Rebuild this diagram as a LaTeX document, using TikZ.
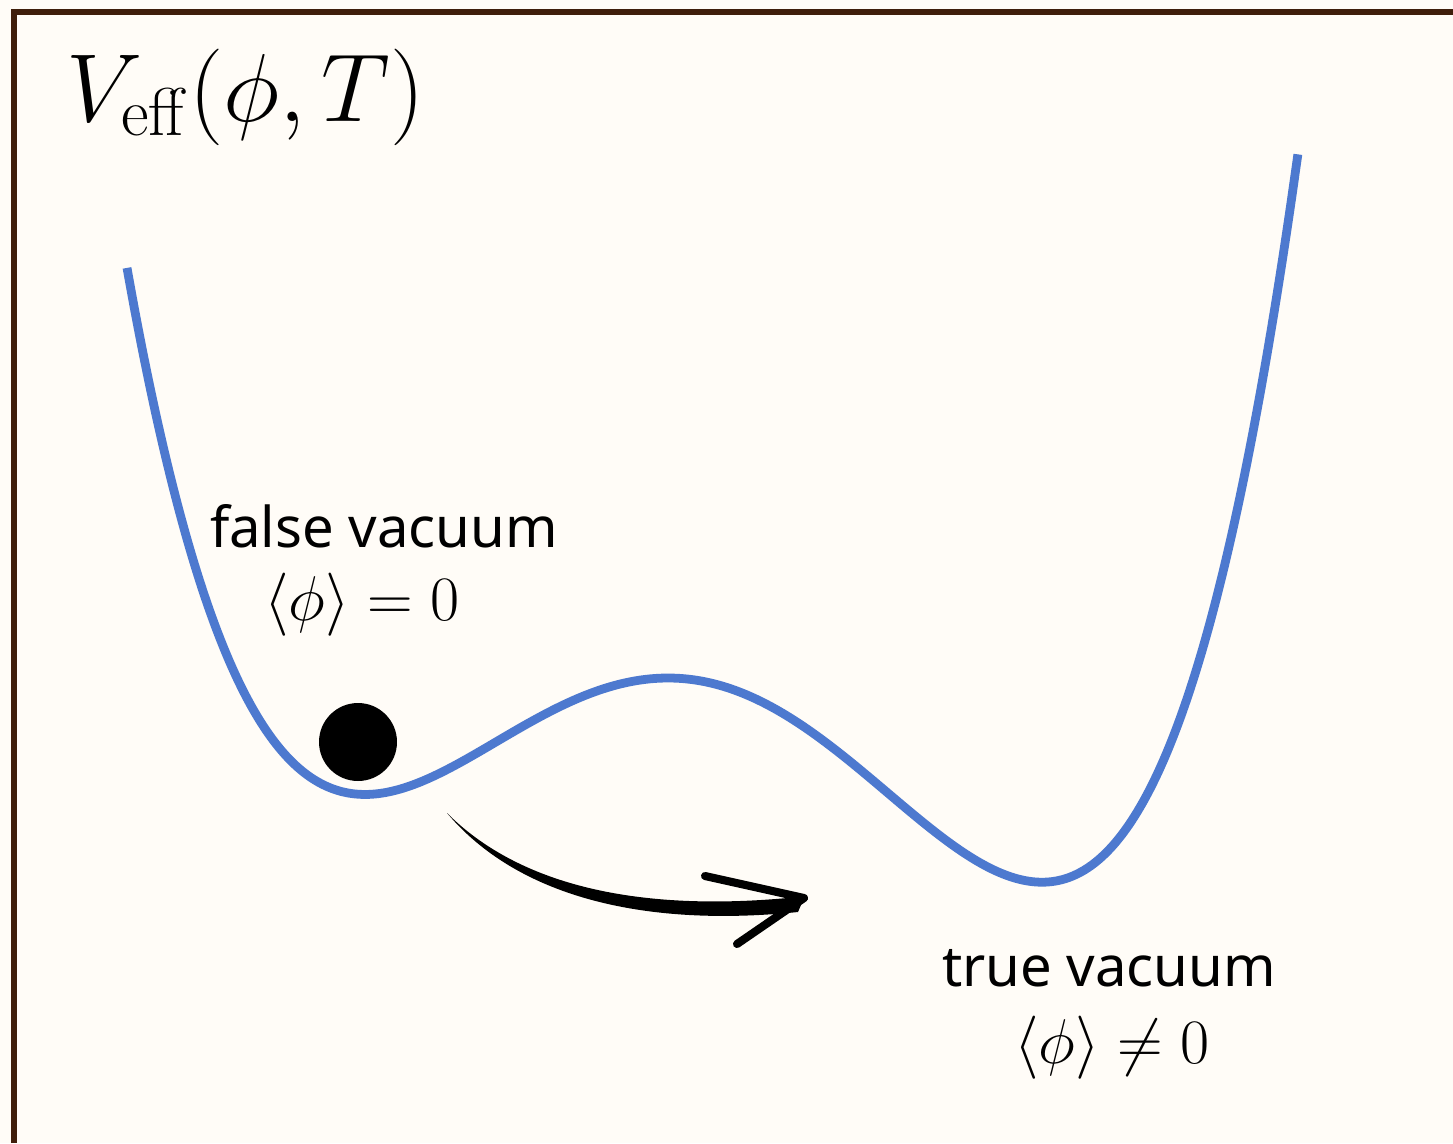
\RequirePackage{fix-cm}
\documentclass[tikz,border=0pt]{standalone}
\usepackage{amsmath,amssymb}
\usepackage[no-math]{fontspec}
\setmainfont{Noto Sans}
\usetikzlibrary{positioning,calc}
\definecolor{cPaper}{HTML}{FFFCF7}
\definecolor{cFrame}{HTML}{3F1E0B}
\definecolor{cPot}{HTML}{4D79CF}

\begin{document}
\begin{tikzpicture}[x=0.02cm,y=-0.02cm,
  lbl/.style={font=\fontsize{32}{36}\selectfont,inner sep=0pt,anchor=base},
  vev/.style={font=\fontsize{36}{40}\selectfont,inner sep=0pt,anchor=base},
  ball/.style={circle,fill=black,minimum size=1.56cm,inner sep=0pt}]
  \fill[cPaper] (0,0) rectangle (1453,1143);
  \useasboundingbox (0,0) rectangle (1453,1143);
  \draw[cFrame,line width=3.4pt] (14,1143) -- (14,12) -- (1453,12);

  % potential V(phi), quartic with two minima
  \draw[cPot,line width=5pt] plot[domain=-5.41:6.30,samples=160,smooth]
    ({668+100*\x},{678-4.78*(\x*\x*\x*\x/4-0.236667*\x*\x*\x-5.6661*\x*\x)});

  \node[inner sep=0pt,anchor=base west,font=\fontsize{55}{60}\selectfont] (title) at (66,121)
    {$V_{\mathrm{eff}}(\phi,T)$};

  \node[ball] (particle) at (358,742) {};

  \node[lbl] (falsetxt) at (384,547) {false vacuum};
  \node[vev] (falsevev) at (362,620) {$\langle\phi\rangle=0$};
  \node[lbl] (truetxt) at (1109,986) {true vacuum};
  \node[vev] (truevev) at (1112,1063) {$\langle\phi\rangle\neq0$};

  % tunnelling arrow
  \coordinate (tail) at (447,813);
  \coordinate (tip) at (804,898);
  \fill (tail) .. controls (520,886) and (640,913) .. (798,897)
    -- (tip) -- (798,912) .. controls (640,928) and (516,895) .. (tail) -- cycle;
  \draw[line width=4.6pt,line cap=round,line join=round] (705,876) -- (tip) -- (737,944);
\end{tikzpicture}
\end{document}
